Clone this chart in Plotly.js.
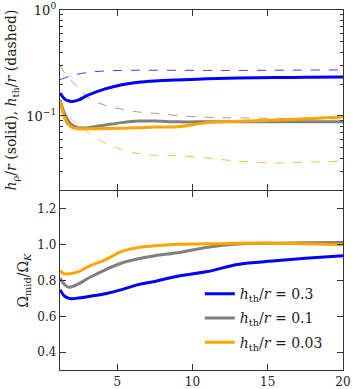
<!DOCTYPE html>
<html>
<head>
<meta charset="utf-8">
<script src="https://cdn.plot.ly/plotly-3.0.1.min.js"></script>
<style>
  body { margin: 0; background: #fff; }
  #chart { width: 354px; height: 389px; }
</style>
</head>
<body>
<div id="chart"></div>
<script>
// radius grid shared by all curves
var rGrid = [1.2, 1.5, 1.75, 2, 2.4, 3.1, 4.2, 5.3, 6.4, 7.5, 9, 11, 13, 15.5, 17.5, 20];

// top panel: density scale height (solid) and thermal scale height (dashed)
var hRho03 = [0.164, 0.145, 0.139, 0.137, 0.141, 0.158, 0.18, 0.197, 0.208, 0.214, 0.219, 0.224, 0.228, 0.23, 0.232, 0.233];
var hRho01 = [0.142, 0.105, 0.09, 0.082, 0.0775, 0.0775, 0.082, 0.0865, 0.0895, 0.0895, 0.088, 0.088, 0.088, 0.088, 0.088, 0.088];
var hRho003 = [0.14, 0.097, 0.083, 0.078, 0.0757, 0.0757, 0.076, 0.0765, 0.0774, 0.0786, 0.079, 0.0865, 0.089, 0.0915, 0.094, 0.0985];
var hTh03 = [0.22, 0.228, 0.235, 0.24, 0.248, 0.258, 0.266, 0.269, 0.27, 0.27, 0.27, 0.269, 0.269, 0.27, 0.271, 0.272];
var hTh01 = [0.3, 0.255, 0.232, 0.212, 0.185, 0.148, 0.126, 0.116, 0.109, 0.106, 0.101, 0.097, 0.096, 0.095, 0.094, 0.094];
var hTh003 = [0.134, 0.11, 0.1, 0.092, 0.083, 0.0694, 0.0557, 0.0482, 0.0441, 0.0425, 0.0422, 0.04, 0.0375, 0.036, 0.0366, 0.0373];

// bottom panel: midplane angular velocity over Keplerian
var omega03 = [0.749, 0.713, 0.702, 0.698, 0.702, 0.711, 0.726, 0.749, 0.777, 0.795, 0.824, 0.85, 0.89, 0.91, 0.924, 0.939];
var omega01 = [0.814, 0.778, 0.763, 0.766, 0.78, 0.814, 0.86, 0.898, 0.922, 0.939, 0.955, 0.986, 1.004, 1.009, 1.011, 1.013];
var omega003 = [0.855, 0.837, 0.838, 0.84, 0.848, 0.879, 0.916, 0.963, 0.985, 0.994, 1.003, 1.005, 1.008, 1.009, 1.005, 1.0];

var names = ["<i>h</i><sub>th</sub>/<i>r</i> = 0.3", "<i>h</i><sub>th</sub>/<i>r</i> = 0.1", "<i>h</i><sub>th</sub>/<i>r</i> = 0.03"];
var colors = ["#0000ff", "#808080", "#ffa500"];

var solidTop = [hRho03, hRho01, hRho003];
var dashTop = [hTh03, hTh01, hTh003];
var omegas = [omega03, omega01, omega003];

var data = [];
for (var i = 0; i < 3; i++) {
  data.push({
    x: rGrid, y: dashTop[i], xaxis: "x2", yaxis: "y2", mode: "lines",
    line: {color: colors[i], width: 1, dash: "dash", shape: "spline"},
    opacity: 0.75, showlegend: false, hoverinfo: "skip"
  });
}
for (var i = 0; i < 3; i++) {
  data.push({
    x: rGrid, y: solidTop[i], xaxis: "x2", yaxis: "y2", mode: "lines",
    line: {color: colors[i], width: 3, shape: "spline"},
    showlegend: false
  });
}
for (var i = 0; i < 3; i++) {
  data.push({
    x: rGrid, y: omegas[i], xaxis: "x", yaxis: "y", mode: "lines",
    name: names[i], legendgroup: "g" + i,
    line: {color: colors[i], width: 3, shape: "spline"}
  });
}

var minorVals = [0.02, 0.03, 0.04, 0.05, 0.06, 0.07, 0.08, 0.09, 0.2, 0.3, 0.4, 0.5, 0.6, 0.7, 0.8, 0.9];

var axisStyle = {
  showline: true, linecolor: "#333", linewidth: 1.2, mirror: "ticks",
  ticks: "inside", ticklen: 6, tickcolor: "#333", tickwidth: 1,
  showgrid: false, zeroline: false
};

var layout = {
  width: 354, height: 389,
  margin: {l: 60, r: 11, t: 10, b: 19},
  paper_bgcolor: "#fff", plot_bgcolor: "#fff",
  font: {family: "DejaVu Serif, serif", size: 12, color: "#222"},
  xaxis: Object.assign({}, axisStyle, {
    domain: [0, 1], anchor: "y", range: [1.2, 20],
    tickvals: [5, 10, 15, 20]
  }),
  xaxis2: Object.assign({}, axisStyle, {
    domain: [0, 1], anchor: "y2", matches: "x", range: [1.2, 20],
    tickvals: [5, 10, 15, 20], showticklabels: false
  }),
  yaxis: Object.assign({}, axisStyle, {
    domain: [0, 0.497], anchor: "x", range: [0.3, 1.3],
    tickvals: [0.4, 0.6, 0.8, 1.0, 1.2], tickformat: ".1f",
    title: {text: "Ω<sub>mid</sub>/Ω<sub><i>K</i></sub>", font: {size: 14}, standoff: 5}
  }),
  yaxis2: Object.assign({}, axisStyle, {
    domain: [0.5, 1], anchor: "x2", type: "log", range: [Math.log10(0.02), 0],
    tickvals: [0.1, 1], ticktext: ["10<sup>−1</sup>", "10<sup>0</sup>"],
    tickfont: {size: 13},
    minor: {tickmode: "array", tickvals: minorVals, ticks: "inside", ticklen: 3, tickcolor: "#333"},
    title: {text: "<i>h</i><sub>ρ</sub>/<i>r</i> (solid), <i>h</i><sub>th</sub>/<i>r</i> (dashed)", font: {size: 14}, standoff: 6}
  }),
  legend: {
    x: 0.494, y: 0.255, xanchor: "left", yanchor: "top",
    bgcolor: "rgba(0,0,0,0)", font: {size: 14}, tracegroupgap: 3
  }
};

Plotly.newPlot("chart", data, layout, {staticPlot: true});
</script>
</body>
</html>
